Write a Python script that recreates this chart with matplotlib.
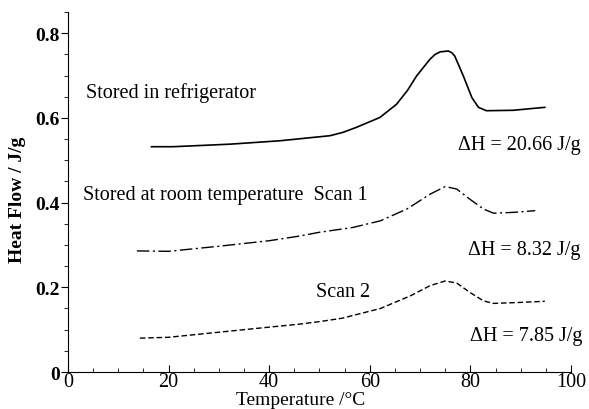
import matplotlib
matplotlib.use('Agg')
import matplotlib.pyplot as plt
from matplotlib.ticker import MultipleLocator

plt.rcParams['font.family'] = ['Liberation Serif', 'DejaVu Serif']

# data
t_fridge = [16.6, 20.9, 32.2, 42.1, 52.1, 54.7, 57.4, 62.0, 65.3, 67.5, 69.3, 72.0, 73.0,
            74.0, 75.6, 76.3, 76.9, 78.6, 80.3, 81.6, 83.2, 88.5, 94.8]
hf_fridge = [0.532, 0.532, 0.538, 0.546, 0.558, 0.566, 0.578, 0.601, 0.632, 0.665, 0.699,
             0.739, 0.750, 0.756, 0.758, 0.754, 0.746, 0.699, 0.648, 0.625, 0.617, 0.618, 0.625]

t_scan1 = [13.7, 20.0, 30.0, 40.0, 46.0, 50.0, 56.5, 62.1, 67.4, 72.0, 75.0, 77.3,
           79.9, 82.6, 84.6, 88.6, 92.9]
hf_scan1 = [0.286, 0.285, 0.297, 0.310, 0.321, 0.330, 0.341, 0.357, 0.385, 0.420, 0.438,
            0.432, 0.408, 0.385, 0.375, 0.377, 0.381]

t_scan2 = [14.3, 20.0, 30.0, 40.0, 46.0, 50.0, 54.5, 62.1, 68.1, 72.0, 75.0, 77.3,
           79.9, 82.6, 84.6, 89.2, 94.8]
hf_scan2 = [0.080, 0.082, 0.094, 0.106, 0.113, 0.119, 0.127, 0.150, 0.180, 0.204, 0.215,
            0.210, 0.188, 0.168, 0.162, 0.164, 0.167]

fig = plt.figure(figsize=(5.89, 4.10), dpi=100)
ax = fig.add_axes([0.1154, 0.0902, 0.854, 0.878])

ax.plot(t_fridge, hf_fridge, color='black', lw=1.2)
ax.plot(t_scan1, hf_scan1, color='black', lw=1.0, dashes=(9, 2.5, 1.5, 2.5))
ax.plot(t_scan2, hf_scan2, color='black', lw=1.0, dashes=(4, 2))

ax.set_xlim(0, 100)
ax.set_ylim(0, 0.85)
ax.spines['top'].set_visible(False)
ax.spines['right'].set_visible(False)
ax.xaxis.set_major_locator(MultipleLocator(20))
ax.xaxis.set_minor_locator(MultipleLocator(5))
ax.yaxis.set_major_locator(MultipleLocator(0.2))
ax.yaxis.set_minor_locator(MultipleLocator(0.05))
ax.tick_params(axis='x', which='both', direction='in', pad=0)
ax.tick_params(axis='y', which='both', direction='out', pad=1)
ax.tick_params(which='major', length=5)
ax.tick_params(which='minor', length=3)
ax.set_xticks([0, 20, 40, 60, 80, 100])
ax.set_xticklabels(['0', '20', '40', '60', '80', '100'], fontsize=14.5)
ax.set_yticks([0, 0.2, 0.4, 0.6, 0.8])
ax.set_yticklabels(['0', '0.2', '0.4', '0.6', '0.8'], fontsize=14, fontweight='bold')

ax.set_xlabel('Temperature /°C', fontsize=14)
ax.xaxis.set_label_coords(0.462, -0.053)
ax.set_ylabel('Heat Flow / J/g', fontsize=14, fontweight='bold')
ax.yaxis.set_label_coords(-0.083, 0.48)

fs = 14.5
ax.text(3.6, 0.661, 'Stored in refrigerator', fontsize=fs, va='center')
ax.text(77.6, 0.537, '\u0394H = 20.66 J/g', fontsize=fs, va='center')
ax.text(3.0, 0.418, 'Stored at room temperature  Scan 1', fontsize=fs, va='center')
ax.text(79.6, 0.290, '\u0394H = 8.32 J/g', fontsize=fs, va='center')
ax.text(49.4, 0.191, 'Scan 2', fontsize=fs, va='center')
ax.text(80.0, 0.087, '\u0394H = 7.85 J/g', fontsize=fs, va='center')

fig.savefig('out.png', dpi=100)
